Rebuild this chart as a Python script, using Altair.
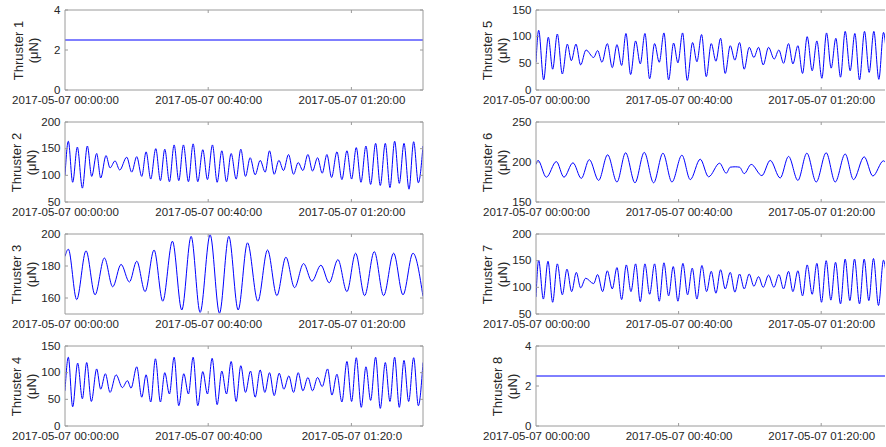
import altair as alt
import pandas as pd

FONT = "Liberation Sans"
TXT = "#262626"
FRAME = "#9a9a9a"
BLUE = "#0000ff"

# ---- data (time in minutes after 2017-05-07 00:00:00, thrust in µN) ----
t1 = [0, 100]
v1 = [2.5, 2.5]

t2 = [0, 0.93, 2.14, 3.45, 4.85, 6.24, 7.46, 8.85, 9.97, 11.46, 12.58, 13.98, 15.29, 17.24, 18.64,
      20.04, 21.44, 22.65, 23.95, 25.35, 26.65, 27.87, 29.17, 30.48, 31.78, 33.08, 34.48, 35.79,
      37.09, 38.49, 39.79, 41.19, 42.50, 43.80, 45.11, 46.41, 47.81, 49.11, 50.42, 51.72, 53.12,
      54.52, 55.92, 57.13, 58.43, 59.74, 61.04, 62.44, 63.84, 65.14, 66.45, 67.85, 69.15, 70.55,
      71.85, 73.16, 74.46, 75.96, 77.35, 78.75, 80.06, 81.36, 82.67, 84.06, 85.37, 86.77, 88.07,
      89.47, 90.77, 92.08, 93.38, 94.69, 96.09, 97.39, 98.70, 100]
v2 = [100, 164, 87, 153, 76, 155, 98, 141, 95, 137, 114, 127, 110, 134, 106, 135, 98, 144, 93, 150,
      90, 149, 88, 157, 90, 157, 88, 159, 88, 148, 92, 157, 87, 146, 88, 141, 93, 149, 98, 133,
      101, 128, 106, 146, 102, 128, 109, 139, 102, 124, 109, 139, 108, 133, 104, 139, 96, 144, 92,
      146, 93, 152, 87, 155, 83, 160, 81, 160, 77, 164, 85, 160, 74, 163, 86, 155]

t3 = [0, 0.93, 3.26, 5.87, 8.39, 11.00, 13.33, 15.66, 17.99, 20.04, 22.37, 24.88, 27.31, 30.01,
      32.62, 35.23, 37.74, 40.54, 43.15, 45.76, 48.37, 50.98, 53.87, 56.57, 59.18, 61.70, 64.12,
      66.64, 68.97, 71.48, 73.81, 76.23, 78.75, 81.17, 83.69, 86.39, 89.00, 91.80, 94.41, 97.20, 100]
v3 = [186, 190.5, 159, 189.5, 162, 185, 167, 181, 170, 183, 164, 190, 158, 195.5, 152.5, 198.5,
      151, 199.5, 150.5, 198.5, 152.5, 194.5, 158, 190, 161.5, 185.5, 166.5, 181.5, 170.5, 180.5,
      169.5, 184, 164, 188, 161.5, 189, 161.5, 188, 162, 188, 161]

t4 = [0, 0.93, 2.14, 3.54, 4.85, 6.06, 7.36, 8.85, 9.97, 11.28, 12.58, 14.26, 16.03, 17.43, 18.45,
      20.04, 21.44, 22.65, 23.95, 25.26, 26.65, 27.87, 29.17, 30.48, 31.78, 33.18, 34.48, 35.79,
      37.09, 38.49, 39.79, 41.10, 42.50, 43.80, 45.11, 46.41, 47.81, 49.11, 50.42, 51.82, 53.12,
      54.52, 55.82, 57.13, 58.43, 59.83, 61.14, 62.53, 63.84, 65.14, 66.45, 67.85, 69.15, 70.55,
      71.85, 73.35, 74.56, 75.96, 77.35, 78.75, 80.06, 81.36, 82.76, 84.06, 85.37, 86.77, 88.07,
      89.47, 90.77, 92.08, 93.38, 94.69, 95.99, 97.39, 98.70, 100]
v4 = [66, 129, 36, 118, 51, 119, 46, 107, 69, 98, 63, 96, 72, 85, 71, 111, 54, 96, 45, 126, 45, 100,
      60, 129, 38, 98, 60, 129, 38, 102, 60, 127, 40, 103, 60, 121, 46, 113, 63, 103, 54, 105, 63,
      100, 57, 99, 69, 94, 63, 100, 66, 91, 66, 91, 74, 107, 58, 97, 45, 121, 46, 128, 35, 111, 48,
      129, 33, 119, 46, 129, 35, 123, 46, 128, 38, 119]

t5 = [0, 0.75, 2.15, 3.46, 4.67, 5.98, 7.38, 8.79, 9.91, 11.21, 12.52, 14.02, 16.17, 17.29, 18.50,
      20.00, 21.40, 22.71, 24.02, 25.23, 26.54, 27.94, 29.25, 30.56, 31.87, 33.27, 34.58, 35.89,
      37.20, 38.60, 39.81, 41.12, 42.43, 43.93, 45.14, 46.45, 47.76, 49.16, 50.47, 51.78, 53.08,
      54.49, 55.79, 57.10, 58.41, 59.81, 61.12, 62.43, 63.74, 65.23, 66.82, 68.13, 69.44, 70.84,
      72.06, 73.46, 74.77, 76.07, 77.48, 78.79, 80.19, 81.50, 82.80, 84.11, 85.42, 86.73, 88.13,
      89.44, 90.75, 92.15, 93.46, 94.77, 96.17, 97.48, 98.22]
v5 = [52, 112, 19, 99, 39, 105, 30, 86, 55, 86, 47, 75, 61, 74, 52, 87, 42, 85, 46, 106, 29, 92, 49,
      106, 21, 87, 52, 107, 19, 88, 51, 107, 18, 89, 53, 104, 25, 87, 54, 97, 31, 83, 56, 89, 39, 80,
      61, 80, 47, 80, 58, 75, 50, 87, 49, 83, 31, 100, 36, 92, 22, 107, 41, 97, 24, 110, 36, 106, 19,
      110, 33, 110, 20, 108, 74]

t6 = [0, 0.56, 2.90, 5.70, 7.85, 10.37, 12.71, 14.95, 17.57, 20.09, 22.71, 25.14, 27.76, 30.37,
      32.99, 35.61, 38.13, 40.93, 43.27, 46.07, 48.41, 51.50, 53.36, 54.49, 55.89, 57.10, 58.41,
      60.37, 63.36, 65.70, 68.50, 70.84, 73.46, 75.98, 78.60, 81.40, 83.93, 86.73, 89.07, 92.06,
      94.49, 97.48, 98.22]
v6 = [197, 202, 181, 200.5, 181, 199, 179.5, 203, 177, 209, 175, 211.5, 174, 212, 174, 211, 175,
      208.5, 178, 203.5, 181.5, 198.5, 186, 193.5, 194, 193.5, 185.5, 197, 183, 202, 180, 207, 177,
      211, 175, 211.5, 175, 210, 178, 206.5, 182.5, 201.5, 198]

t7 = [0, 0.75, 2.06, 3.36, 4.67, 5.98, 7.38, 8.69, 10.00, 11.31, 12.52, 13.93, 16.17, 17.29, 18.69,
      20.00, 21.40, 22.71, 24.02, 25.33, 26.64, 27.94, 29.25, 30.56, 31.87, 33.27, 34.58, 35.89,
      37.20, 38.50, 39.81, 41.21, 42.52, 43.83, 45.14, 46.54, 47.85, 49.16, 50.47, 51.78, 53.08,
      54.49, 55.79, 57.10, 58.41, 59.81, 61.12, 62.43, 63.74, 65.23, 66.73, 68.13, 69.44, 70.84,
      72.06, 73.46, 74.77, 76.07, 77.48, 78.79, 80.09, 81.40, 82.71, 84.02, 85.42, 86.73, 88.04,
      89.35, 90.75, 92.06, 93.36, 94.67, 96.07, 97.48, 98.22]
v7 = [82, 151, 78, 149, 72, 144, 86, 134, 92, 128, 99, 117, 107, 124, 92, 131, 97, 137, 77, 142, 92,
      144, 73, 144, 87, 144, 74, 146, 84, 139, 74, 145, 86, 136, 78, 141, 92, 130, 89, 133, 97, 128,
      91, 125, 97, 125, 102, 120, 100, 123, 100, 124, 97, 130, 92, 131, 84, 142, 87, 145, 72, 150,
      76, 147, 69, 153, 75, 153, 69, 153, 75, 154, 66, 151, 125]

t8 = [0, 100]
v8 = [2.5, 2.5]

series = {1: (t1, v1), 2: (t2, v2), 3: (t3, v3), 4: (t4, v4),
          5: (t5, v5), 6: (t6, v6), 7: (t7, v7), 8: (t8, v8)}

x_tick_minutes = [0, 40, 80]
y_ticks = {1: [0, 2, 4], 2: [50, 100, 150, 200], 3: [160, 180, 200], 4: [0, 50, 100, 150],
           5: [0, 50, 100, 150], 6: [150, 200, 250], 7: [50, 100, 150, 200], 8: [0, 2, 4]}
y_domains = {1: [0, 4], 2: [50, 200], 3: [150, 200], 4: [0, 150],
             5: [0, 150], 6: [150, 250], 7: [50, 200], 8: [0, 4]}
title_pads = {1: 13, 2: 2, 3: 2, 4: 2, 5: 2, 6: 2, 7: 2, 8: 5}

LEFT_W, RIGHT_W, H = 358, 349, 80
LEFT_XMAX, RIGHT_XMAX = 100, 97.9

BASE_LABEL = "timeFormat(datetime(2017, 4, 7, 0, datum.value, 0), '%Y-%m-%d %H:%M:%S')"


def panel(n, width, xmax, last_label=None, open_right=False):
    t, v = series[n]
    assert len(t) == len(v)
    df = pd.DataFrame({"t": t, "v": v})
    label = BASE_LABEL
    if last_label:
        label = f"datum.value == 80 ? '{last_label}' : " + BASE_LABEL
    X = alt.X("t:Q",
              scale=alt.Scale(domain=[0, xmax], nice=False, zero=False),
              axis=alt.Axis(values=x_tick_minutes, labelExpr=label, title=None, grid=False,
                            domain=False, ticks=False, tickSize=0, labelPadding=4,
                            labelFlush=False, labelOverlap=False, labelBound=False))
    Y = alt.Y("v:Q",
              scale=alt.Scale(domain=y_domains[n], nice=False, zero=False),
              axis=alt.Axis(values=y_ticks[n], title=[f"Thruster {n}", "(μN)"], grid=False,
                            domain=False, ticks=False, tickSize=0, labelPadding=5,
                            labelFlush=False, labelOverlap=False, labelBound=False,
                            titlePadding=title_pads[n]))
    line = alt.Chart(df).mark_line(color=BLUE, strokeWidth=1, interpolate="monotone",
                                   clip=True).encode(x=X, y=Y)
    xt = pd.DataFrame({"t": [40, 80]})
    yt = pd.DataFrame({"v": y_ticks[n]})
    one = pd.DataFrame({"k": [0]})
    rule = dict(color=FRAME, strokeWidth=1)
    bottom = alt.Chart(xt).mark_rule(**rule).encode(x=X, y=alt.value(H), y2=alt.value(H - 3))
    top = alt.Chart(xt).mark_rule(**rule).encode(x=X, y=alt.value(0), y2=alt.value(3))
    left = alt.Chart(yt).mark_rule(**rule).encode(y=Y, x=alt.value(0), x2=alt.value(3))
    layers = [line, bottom, top, left]
    if open_right:
        # frame clipped at the figure's right edge: top, bottom and left sides only
        layers += [
            alt.Chart(one).mark_rule(**rule).encode(x=alt.value(0), x2=alt.value(width), y=alt.value(0)),
            alt.Chart(one).mark_rule(**rule).encode(x=alt.value(0), x2=alt.value(width), y=alt.value(H)),
            alt.Chart(one).mark_rule(**rule).encode(x=alt.value(0), y=alt.value(0), y2=alt.value(H)),
        ]
    else:
        right = alt.Chart(yt).mark_rule(**rule).encode(y=Y, x=alt.value(width - 3), x2=alt.value(width))
        frame = alt.Chart(one).mark_rect(fillOpacity=0, stroke=FRAME, strokeWidth=1).encode(
            x=alt.value(0), x2=alt.value(width), y=alt.value(0), y2=alt.value(H))
        layers += [right, frame]
    return alt.layer(*layers).properties(width=width, height=H)


panels = [
    panel(1, LEFT_W, LEFT_XMAX), panel(5, RIGHT_W, RIGHT_XMAX, open_right=True),
    panel(2, LEFT_W, LEFT_XMAX), panel(6, RIGHT_W, RIGHT_XMAX, open_right=True),
    panel(3, LEFT_W, LEFT_XMAX), panel(7, RIGHT_W, RIGHT_XMAX, open_right=True),
    panel(4, LEFT_W, LEFT_XMAX, last_label="2017-05-07 01:20:0"),
    panel(8, RIGHT_W, RIGHT_XMAX, open_right=True),
]

chart = (
    alt.concat(*panels, columns=2, spacing={"row": 32, "column": 113}, bounds="flush")
    .properties(padding={"left": 10, "top": 4, "right": 0, "bottom": 0}, background="white")
    .configure_view(stroke=None)
    .configure_axis(labelFont=FONT, labelFontSize=11.5, labelColor=TXT,
                    titleFont=FONT, titleFontSize=13, titleFontWeight="normal",
                    titleColor=TXT, titleLineHeight=15)
)

chart.save("out.html", embed_options={"renderer": "svg", "actions": False})
